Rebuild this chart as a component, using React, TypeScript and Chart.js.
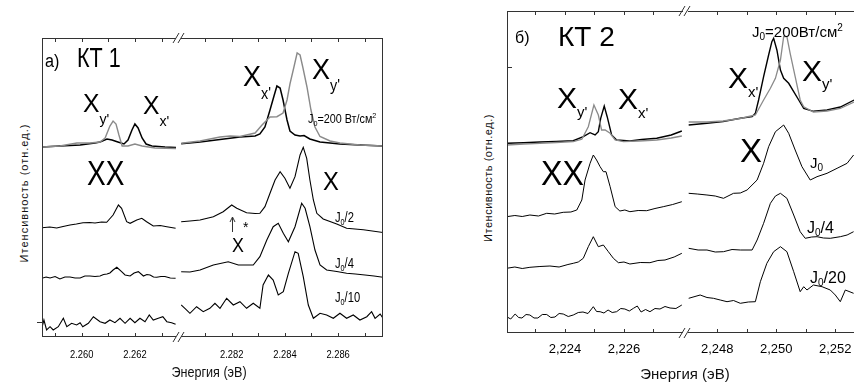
import React, { useEffect, useRef } from "react";
import { Chart, registerables } from "chart.js";
Chart.register(...registerables);

// ===================== Panel а) КТ 1 : left segment =====================
const aL_topBlack_E = [2.2585, 2.25918, 2.25994, 2.2605, 2.26069, 2.26095, 2.26114, 2.26136, 2.26159, 2.26174, 2.26189, 2.262, 2.26212, 2.26227, 2.26242, 2.26264, 2.26313, 2.26355];
const aL_topBlack_I = [190, 191, 192, 194, 195, 198, 197, 195, 193, 197, 207, 213, 209, 199, 193, 191, 190, 189.5];
const aL_topGray_E = [2.2585, 2.25918, 2.25982, 2.26031, 2.26069, 2.26088, 2.26106, 2.26118, 2.26129, 2.2614, 2.26152, 2.26174, 2.262, 2.26227, 2.26276, 2.26355];
const aL_topGray_I = [190, 191, 194, 194, 195, 199, 211, 216, 213, 202, 191, 191, 193, 191, 189, 188.5];
const aL_j2_E = [2.2585, 2.2588, 2.25906, 2.2593, 2.25956, 2.2598, 2.26005, 2.2603, 2.2605, 2.26075, 2.26094, 2.26118, 2.26138, 2.2615, 2.26169, 2.26182, 2.26207, 2.26226, 2.26244, 2.26269, 2.26295, 2.2632, 2.26353];
const aL_j2_I = [109.3, 110, 109, 110.5, 112, 113, 114.3, 114.5, 114, 115, 114.7, 122, 132, 128.7, 115.3, 113.7, 117, 118.7, 115.3, 111, 111.5, 110.3, 108.7];
const aL_j4_E = [2.2585, 2.25866, 2.25881, 2.259, 2.25918, 2.25937, 2.25956, 2.25975, 2.25994, 2.26012, 2.26031, 2.2605, 2.26069, 2.26082, 2.26095, 2.26106, 2.26118, 2.26132, 2.2615, 2.26163, 2.26182, 2.26197, 2.26213, 2.26232, 2.26245, 2.26257, 2.2627, 2.26282, 2.26298, 2.26313, 2.26333, 2.26353];
const aL_j4_I = [58.7, 60, 59, 60.5, 58, 60, 60, 59, 59, 61, 61, 60.5, 61, 62.5, 63, 64, 67, 69.7, 65.3, 62, 61, 64, 65.3, 61, 62.5, 62, 60, 59.7, 60.5, 60.5, 59, 58.7];
const aL_j10_E = [2.2585, 2.25858, 2.25868, 2.25881, 2.25893, 2.25912, 2.25931, 2.25944, 2.25962, 2.25981, 2.25994, 2.26004, 2.26025, 2.26044, 2.26069, 2.26088, 2.26106, 2.26125, 2.26144, 2.26163, 2.26182, 2.262, 2.26219, 2.26238, 2.26254, 2.26269, 2.26288, 2.26305, 2.2632, 2.26338, 2.26353];
const aL_j10_I = [9, 17, 7, 10.3, 7, 10.3, 18.7, 10.3, 13.7, 12, 14.3, 10.3, 13.7, 20.3, 15.3, 13.7, 17, 14.3, 18.7, 13.7, 18.7, 14.3, 18.7, 15.3, 22, 17, 18.7, 20.3, 15.3, 14.3, 12.7];

// ===================== Panel а) КТ 1 : right segment =====================
const aR_topBlack_E = [2.2801, 2.28081, 2.28156, 2.28231, 2.28288, 2.28306, 2.28325, 2.28344, 2.28359, 2.2837, 2.28382, 2.28393, 2.28408, 2.28419, 2.28438, 2.28457, 2.28472, 2.28494, 2.28532, 2.28607, 2.28682, 2.28769];
const aR_topBlack_I = [193.3, 195, 197.5, 200, 201, 203, 210, 227, 241, 251, 249, 237, 217, 206, 202, 201, 201.5, 198, 195, 193, 192, 191];
const aR_topGray_E = [2.2801, 2.28081, 2.28156, 2.28194, 2.28231, 2.28288, 2.28314, 2.28344, 2.2837, 2.28393, 2.28408, 2.28419, 2.28434, 2.28446, 2.28457, 2.28468, 2.28483, 2.28498, 2.28513, 2.28532, 2.2857, 2.28607, 2.28682, 2.28769];
const aR_topGray_I = [193.7, 196, 200, 201, 200.5, 204, 212, 220, 220.3, 224, 237, 253, 270, 284, 282, 269, 250, 227, 210, 200.5, 196, 194, 192, 191];
const aR_j2_E = [2.2801, 2.28043, 2.28081, 2.28131, 2.28168, 2.282, 2.28219, 2.28256, 2.28288, 2.28306, 2.28325, 2.28344, 2.28363, 2.28382, 2.284, 2.28419, 2.28438, 2.28457, 2.28469, 2.28482, 2.28494, 2.28507, 2.2852, 2.28544, 2.28595, 2.28632, 2.28695, 2.28769];
const aR_j2_I = [115.3, 116, 117, 120.3, 125.3, 132, 128.7, 124.3, 123.5, 123.7, 130.3, 143.7, 157, 165.3, 158.7, 148.7, 160.3, 182, 189.7, 178.7, 157, 137, 123.7, 118, 113, 108.7, 107.2, 104.5];
const aR_j4_E = [2.2801, 2.28043, 2.28081, 2.28131, 2.28187, 2.28225, 2.28281, 2.28306, 2.28332, 2.28356, 2.28375, 2.28394, 2.28413, 2.28438, 2.28463, 2.28476, 2.28494, 2.28513, 2.28532, 2.28557, 2.28595, 2.28632, 2.28665, 2.28701, 2.28735, 2.2877];
const aR_j4_I = [65.3, 65, 67, 72, 75.3, 72, 72, 80.3, 97, 110.3, 113.7, 103.7, 95.3, 110.3, 133.7, 128.7, 110.3, 87, 72, 67, 65.5, 63.7, 63, 62, 61, 59.7];
const aR_j10_E = [2.2801, 2.28024, 2.28043, 2.28068, 2.28093, 2.28118, 2.28137, 2.28156, 2.28181, 2.28206, 2.28231, 2.28256, 2.28281, 2.28306, 2.28318, 2.28338, 2.28356, 2.28375, 2.28394, 2.28413, 2.28438, 2.2845, 2.28469, 2.28488, 2.28507, 2.28532, 2.28557, 2.28582, 2.28607, 2.28632, 2.28657, 2.28682, 2.28708, 2.28726, 2.28739, 2.28758, 2.28773];
const aR_j10_I = [32, 28.7, 23.7, 30.3, 25.3, 28.7, 33.7, 28.7, 38.7, 32, 35.3, 28.7, 33.7, 28.7, 52, 62, 57, 42, 45.3, 63.7, 85.3, 83.7, 60.3, 32, 18.7, 23.7, 22, 18.7, 23.7, 18.7, 22, 17, 20.3, 25.3, 18.7, 23, 17];

// ===================== Panel б) КТ 2 : left segment =====================
const bL_topGray_E = [2.22202, 2.2226, 2.22315, 2.2237, 2.22428, 2.22457, 2.22479, 2.22498, 2.22513, 2.22524, 2.22536, 2.22553, 2.2257, 2.22598, 2.2265, 2.22711, 2.2276, 2.22796];
const bL_topGray_I = [188, 189, 189.7, 190.5, 191.3, 193.7, 206.3, 228, 218, 203, 203, 199.7, 193, 191.3, 192, 193, 195, 197];
const bL_topBlack_E = [2.22202, 2.2226, 2.22315, 2.2237, 2.22428, 2.22462, 2.22485, 2.22502, 2.22513, 2.22521, 2.22533, 2.22543, 2.22558, 2.22575, 2.2262, 2.2266, 2.22711, 2.2276, 2.22796];
const bL_topBlack_I = [189.7, 190.3, 191, 191.5, 192.3, 196.3, 200.3, 198, 201.3, 214.7, 227, 216.3, 198, 193, 192, 193.5, 194.7, 198, 202];
const bL_j0_E = [2.22202, 2.2223, 2.22255, 2.22281, 2.2231, 2.22338, 2.22365, 2.22394, 2.2242, 2.2244, 2.22457, 2.22468, 2.22485, 2.22496, 2.22507, 2.22519, 2.2253, 2.22539, 2.22553, 2.2257, 2.22586, 2.22603, 2.2262, 2.22648, 2.22677, 2.22705, 2.22733, 2.22765, 2.22796];
const bL_j0_I = [116.3, 117.5, 116.5, 118, 117, 119.7, 119, 120.7, 121, 123, 133, 153, 169.7, 178, 173, 166.3, 161.3, 161.3, 146.3, 126.3, 122, 123, 121.3, 122.5, 122.3, 124.5, 126.3, 128.5, 131.3];
const bL_j4_E = [2.22202, 2.2223, 2.22255, 2.22281, 2.22315, 2.22349, 2.2238, 2.2241, 2.22428, 2.22445, 2.22462, 2.22479, 2.22496, 2.22513, 2.2253, 2.22547, 2.22564, 2.22581, 2.226, 2.2262, 2.22655, 2.22688, 2.22715, 2.22739, 2.2277, 2.22796];
const bL_j4_I = [64.7, 66, 64.5, 65.7, 66.5, 67, 66, 68.5, 69.7, 71, 74.7, 86.3, 96.3, 86.3, 88, 81.3, 74.7, 70.3, 71, 69, 70.5, 70.3, 72.5, 73, 76, 79.7];
const bL_j20_E = [2.22202, 2.22216, 2.22231, 2.22243, 2.22254, 2.22268, 2.22281, 2.22295, 2.22308, 2.22323, 2.22338, 2.22352, 2.22366, 2.2238, 2.22394, 2.22411, 2.22428, 2.22445, 2.22461, 2.22478, 2.22496, 2.22507, 2.22519, 2.22532, 2.22546, 2.2256, 2.22575, 2.22589, 2.22603, 2.22618, 2.22632, 2.22645, 2.22658, 2.22673, 2.22688, 2.22705, 2.22722, 2.22739, 2.22756, 2.22776, 2.22796];
const bL_j20_I = [16.3, 14, 19, 15.5, 15, 18.5, 18, 15, 15, 18.5, 18.5, 15.5, 16, 19.5, 19, 16.5, 18, 20.5, 21, 19.5, 26.3, 21.5, 21.3, 20, 23, 20.5, 21.3, 24.5, 24, 22, 24.7, 27, 21, 23.5, 21.3, 24.5, 24, 26.5, 25, 24.5, 28];

// ===================== Panel б) КТ 2 : right segment =====================
const bR_topBlack_E = [2.24703, 2.24765, 2.2482, 2.24878, 2.24918, 2.24929, 2.2494, 2.24957, 2.24974, 2.24985, 2.24991, 2.25002, 2.25014, 2.25025, 2.25042, 2.25059, 2.25076, 2.25093, 2.25126, 2.25172, 2.25217, 2.25264];
const bR_topBlack_I = [208, 209.7, 211.5, 214.7, 216.3, 219.7, 233, 256.3, 278, 291.3, 294.7, 283, 263, 254.7, 249.7, 241.3, 233, 224.7, 221.7, 223, 226, 233];
const bR_topGray_E = [2.24703, 2.24765, 2.2482, 2.24878, 2.24929, 2.24957, 2.2498, 2.24997, 2.25014, 2.25025, 2.25036, 2.25047, 2.25064, 2.25081, 2.25093, 2.25126, 2.25172, 2.25217, 2.25264];
const bR_topGray_I = [211, 211, 212, 214.5, 218, 233, 244.7, 254.7, 273, 296.3, 296.3, 279.7, 256.3, 233, 226.3, 221, 222, 224.5, 231];
const bR_j0_E = [2.24703, 2.24732, 2.24765, 2.24793, 2.24821, 2.24855, 2.24878, 2.24901, 2.24935, 2.24957, 2.24974, 2.24997, 2.25025, 2.25042, 2.25064, 2.25087, 2.25115, 2.25138, 2.25172, 2.25206, 2.2524, 2.25262];
const bR_j0_I = [139.7, 139, 138, 137, 134.7, 139.7, 140, 143, 153, 169.7, 186.3, 201.3, 208, 199.7, 183, 166.3, 153, 156.3, 159.7, 164.7, 169.7, 178];
const bR_j4_E = [2.24703, 2.24735, 2.24765, 2.24793, 2.24821, 2.2485, 2.24878, 2.24918, 2.24935, 2.24957, 2.2498, 2.24997, 2.25014, 2.25036, 2.25059, 2.25081, 2.25098, 2.2512, 2.25138, 2.2516, 2.25183, 2.25217, 2.2524, 2.25262];
const bR_j4_I = [84.7, 83, 83, 81, 81.3, 83.5, 83, 83, 93, 109.7, 129.7, 137, 139.7, 134.7, 118, 101.3, 94.7, 96, 96.3, 95, 94.7, 96.3, 98, 101.3];
const bR_j20_E = [2.24703, 2.24742, 2.24765, 2.24787, 2.2481, 2.24833, 2.24855, 2.24878, 2.24905, 2.24929, 2.24946, 2.24968, 2.24991, 2.25014, 2.25036, 2.25059, 2.25081, 2.25093, 2.25104, 2.25126, 2.25155, 2.25183, 2.252, 2.25217, 2.25234, 2.25262];
const bR_j20_I = [34.7, 38, 35.5, 34.7, 33, 31.3, 32.5, 29.7, 31, 31.3, 51.3, 69.7, 81.3, 86.3, 81.3, 61.3, 41.3, 46.3, 43, 48, 46.3, 43, 38, 31.3, 43, 39.7];

// ===================== Axes: ticks and tick labels =====================
const aL_ticks = [2.259, 2.26, 2.261, 2.262, 2.263];
const aL_tickLabels = ["", "2.260", "", "2.262", ""];
const aR_ticks = [2.281, 2.282, 2.283, 2.284, 2.285, 2.286, 2.287];
const aR_tickLabels = ["", "2.282", "", "2.284", "", "2.286", ""];
const bL_ticks = [2.223, 2.224, 2.225, 2.226, 2.227];
const bL_tickLabels = ["", "2,224", "", "2,226", ""];
const bR_ticks = [2.248, 2.249, 2.25, 2.251, 2.252];
const bR_tickLabels = ["2,248", "", "2,250", "", "2,252"];

const BLACK = "#000000";
const GRAY = "#8a8a8a";
const FRAME = "#333333";
const FONT_A = "'Liberation Sans', Arial, sans-serif";
const FONT_B = "'Liberation Sans', Arial, sans-serif";

const pts = (E: number[], I: number[]) => E.map((x, i) => ({ x, y: I[i] }));
const line = (E: number[], I: number[], color: string, width: number) => ({
  data: pts(E, I),
  borderColor: color,
  borderWidth: width,
  pointRadius: 0,
  tension: 0,
  fill: false,
});

const framePlugin = {
  id: "frame",
  afterDraw(chart: any, _a: any, o: any) {
    const { ctx, chartArea: a, scales } = chart;
    const xs = scales.x;
    const ys = scales.y;
    ctx.save();
    ctx.strokeStyle = FRAME;
    ctx.lineWidth = 1;
    ctx.beginPath();
    ctx.moveTo(a.left, a.top + 0.5);
    ctx.lineTo(a.right, a.top + 0.5);
    ctx.moveTo(a.left, a.bottom - 0.5);
    ctx.lineTo(a.right, a.bottom - 0.5);
    if (o.left) {
      ctx.moveTo(a.left + 0.5, a.top);
      ctx.lineTo(a.left + 0.5, a.bottom);
    }
    if (o.right) {
      ctx.moveTo(a.right - 0.5, a.top);
      ctx.lineTo(a.right - 0.5, a.bottom);
    }
    for (const v of o.ticks) {
      const px = Math.round(xs.getPixelForValue(v)) + 0.5;
      ctx.moveTo(px, a.top);
      ctx.lineTo(px, a.top + 4);
      ctx.moveTo(px, a.bottom);
      ctx.lineTo(px, a.bottom - 4);
    }
    for (const t of o.yTicks || []) {
      const py = Math.round(ys.getPixelForValue(t.v)) + 0.5;
      ctx.moveTo(a.left, py);
      ctx.lineTo(a.left + t.len, py);
    }
    if (o.breakLeft) {
      for (const y of [a.top, a.bottom]) {
        for (const dx of o.breakDx) {
          ctx.moveTo(a.left + dx - 3, y + 5);
          ctx.lineTo(a.left + dx + 3, y - 5);
        }
      }
    }
    for (const ar of o.arrows || []) {
      const px = Math.round(xs.getPixelForValue(ar.x)) + 0.5;
      const y0 = ys.getPixelForValue(ar.from);
      const y1 = ys.getPixelForValue(ar.to);
      ctx.moveTo(px, y0);
      ctx.lineTo(px, y1);
      ctx.moveTo(px - 2.5, y1 + 5);
      ctx.lineTo(px, y1);
      ctx.lineTo(px + 2.5, y1 + 5);
    }
    ctx.stroke();
    ctx.fillStyle = "#000";
    ctx.font = o.font;
    ctx.textAlign = "center";
    ctx.textBaseline = "alphabetic";
    o.ticks.forEach((v: number, i: number) => {
      const s = o.labels[i];
      if (!s) return;
      ctx.save();
      ctx.translate(xs.getPixelForValue(v), a.bottom + o.labelDy);
      ctx.scale(o.labelSx || 1, 1);
      ctx.fillText(s, 0, 0);
      ctx.restore();
    });
    ctx.restore();
  },
};

type Seg = {
  area: { left: number; top: number; right: number; bottom: number };
  pad: { left: number; right: number; top: number; bottom: number };
  xMin: number;
  xMax: number;
  yMax: number;
  datasets: any[];
  frame: any;
};

function Segment({ s }: { s: Seg }) {
  const ref = useRef<HTMLCanvasElement | null>(null);
  const w = s.area.right - s.area.left + s.pad.left + s.pad.right;
  const h = s.area.bottom - s.area.top + s.pad.top + s.pad.bottom;
  useEffect(() => {
    const c = new Chart(ref.current as HTMLCanvasElement, {
      type: "line",
      data: { datasets: s.datasets },
      options: {
        responsive: false,
        animation: false,
        devicePixelRatio: 1,
        events: [],
        layout: { padding: s.pad },
        plugins: { legend: { display: false }, tooltip: { enabled: false }, frame: s.frame } as any,
        scales: {
          x: { type: "linear", min: s.xMin, max: s.xMax, display: false },
          y: { type: "linear", min: 0, max: s.yMax, display: false },
        },
      },
      plugins: [framePlugin],
    });
    return () => c.destroy();
  }, []);
  return (
    <canvas
      ref={ref}
      width={w}
      height={h}
      style={{ position: "absolute", left: s.area.left - s.pad.left, top: s.area.top - s.pad.top, width: w, height: h }}
    />
  );
}

type Part = [string, number?, number?];
function Txt({ x, cap, size, parts, font, sx = 1 }: { x: number; cap: number; size: number; parts: Part[]; font: string; sx?: number }) {
  return (
    <div style={{ position: "absolute", left: x, top: cap - 0.13 * size, fontSize: size, lineHeight: 1, fontFamily: font, whiteSpace: "nowrap", color: "#000", transform: `scaleX(${sx})`, transformOrigin: "0 0" }}>
      {parts.map(([t, sz, dy], i) => (
        <span key={i} style={{ fontSize: sz ?? size, position: "relative", top: dy ?? 0 }}>{t}</span>
      ))}
    </div>
  );
}

function VTitle({ cx, cy, size, text, font, spacing }: { cx: number; cy: number; size: number; text: string; font: string; spacing: number }) {
  return (
    <div style={{ position: "absolute", left: cx, top: cy, transform: "translate(-50%,-50%) rotate(-90deg)", fontSize: size, lineHeight: 1, fontFamily: font, whiteSpace: "nowrap", letterSpacing: spacing, color: "#111" }}>
      {text}
    </div>
  );
}

function HTitle({ cx, cap, size, text, font, sx = 1 }: { cx: number; cap: number; size: number; text: string; font: string; sx?: number }) {
  return (
    <div style={{ position: "absolute", left: cx, top: cap - 0.13 * size, transform: `translateX(-50%) scaleX(${sx})`, fontSize: size, lineHeight: 1, fontFamily: font, whiteSpace: "nowrap", color: "#111" }}>
      {text}
    </div>
  );
}

const PAD = { left: 12, right: 12, top: 10, bottom: 30 };

const segments: Seg[] = [
  {
    area: { left: 42, top: 38, right: 176, bottom: 337 },
    pad: PAD,
    xMin: 2.2585075,
    xMax: 2.263545,
    yMax: 299,
    datasets: [
      line(aL_topGray_E, aL_topGray_I, GRAY, 1.4),
      line(aL_topBlack_E, aL_topBlack_I, BLACK, 1.5),
      line(aL_j2_E, aL_j2_I, BLACK, 1.1),
      line(aL_j4_E, aL_j4_I, BLACK, 1.1),
      line(aL_j10_E, aL_j10_I, BLACK, 1.1),
    ],
    frame: { left: true, right: false, ticks: aL_ticks, labels: aL_tickLabels, font: "11px " + FONT_A, labelSx: 0.85, labelDy: 21, yTicks: [{ v: 15, len: -5 }] },
  },
  {
    area: { left: 181, top: 38, right: 383, bottom: 337 },
    pad: PAD,
    xMin: 2.280094,
    xMax: 2.287688,
    yMax: 299,
    datasets: [
      line(aR_topGray_E, aR_topGray_I, GRAY, 1.4),
      line(aR_topBlack_E, aR_topBlack_I, BLACK, 1.5),
      line(aR_j2_E, aR_j2_I, BLACK, 1.1),
      line(aR_j4_E, aR_j4_I, BLACK, 1.1),
      line(aR_j10_E, aR_j10_I, BLACK, 1.1),
    ],
    frame: { left: false, right: true, ticks: aR_ticks, labels: aR_tickLabels, font: "11px " + FONT_A, labelSx: 0.85, labelDy: 21, breakLeft: true, breakDx: [-5, 0], arrows: [{ x: 2.282, from: 105, to: 120 }] },
  },
  {
    area: { left: 507, top: 11, right: 683, bottom: 333 },
    pad: PAD,
    xMin: 2.222034,
    xMax: 2.228,
    yMax: 322,
    datasets: [
      line(bL_topGray_E, bL_topGray_I, GRAY, 1.3),
      line(bL_topBlack_E, bL_topBlack_I, BLACK, 1.4),
      line(bL_j0_E, bL_j0_I, BLACK, 1),
      line(bL_j4_E, bL_j4_I, BLACK, 1),
      line(bL_j20_E, bL_j20_I, BLACK, 1),
    ],
    frame: { left: true, right: false, ticks: bL_ticks, labels: bL_tickLabels, font: "13px " + FONT_B, labelDy: 20, yTicks: [{ v: 266, len: 5 }] },
  },
  {
    area: { left: 688, top: 11, right: 854, bottom: 333 },
    pad: { left: 12, right: 0, top: 10, bottom: 30 },
    xMin: 2.247007,
    xMax: 2.252634,
    yMax: 322,
    datasets: [
      line(bR_topGray_E, bR_topGray_I, GRAY, 1.3),
      line(bR_topBlack_E, bR_topBlack_I, BLACK, 1.4),
      line(bR_j0_E, bR_j0_I, BLACK, 1),
      line(bR_j4_E, bR_j4_I, BLACK, 1),
      line(bR_j20_E, bR_j20_I, BLACK, 1),
    ],
    frame: { left: false, right: false, ticks: bR_ticks, labels: bR_tickLabels, font: "13px " + FONT_B, labelDy: 20, breakLeft: true, breakDx: [-6, -1] },
  },
];

export default function App() {
  return (
    <div style={{ position: "absolute", left: 0, top: 0, width: 854, height: 382, overflow: "hidden", background: "#fff" }}>
      {segments.map((s, i) => (
        <Segment key={i} s={s} />
      ))}

      {/* Panel а */}
      <VTitle cx={24} cy={193} size={11} text="Итенсивность (отн.ед.)" font={FONT_B} spacing={1} />
      <HTitle cx={209} cap={367} size={14} text="Энергия (эВ)" font={FONT_A} sx={0.9} />
      <Txt x={45} cap={54} size={18} parts={[["а)"]]} font={FONT_A} sx={0.9} />
      <Txt x={77} cap={48} size={28} parts={[["КТ 1"]]} font={FONT_A} sx={0.77} />
      <Txt x={83} cap={93} size={26} parts={[["X"], ["y'", 15, 12]]} font={FONT_A} sx={0.95} />
      <Txt x={143} cap={95} size={26} parts={[["X"], ["x'", 15, 12]]} font={FONT_A} sx={0.95} />
      <Txt x={87} cap={160} size={35} parts={[["XX"]]} font={FONT_A} sx={0.8} />
      <Txt x={243} cap={65} size={30} parts={[["X"], ["x'", 16, 13]]} font={FONT_A} sx={0.9} />
      <Txt x={312} cap={58} size={30} parts={[["X"], ["y'", 16, 12]]} font={FONT_A} sx={0.9} />
      <Txt x={308} cap={115} size={12} parts={[["J"], ["0", 8, 3], ["=200 Вт/см"], ["2", 8, -5]]} font={FONT_A} sx={0.9} />
      <Txt x={323} cap={172} size={25} parts={[["X"]]} font={FONT_A} sx={0.95} />
      <Txt x={335} cap={212} size={14} parts={[["J"], ["0", 9, 3], ["/2"]]} font={FONT_A} sx={0.8} />
      <Txt x={232} cap={237} size={21} parts={[["X"]]} font={FONT_A} sx={0.85} />
      <Txt x={243} cap={222} size={14} parts={[["*"]]} font={FONT_A} />
      <Txt x={335} cap={258} size={14} parts={[["J"], ["0", 9, 3], ["/4"]]} font={FONT_A} sx={0.8} />
      <Txt x={335} cap={292} size={14} parts={[["J"], ["0", 9, 3], ["/10"]]} font={FONT_A} sx={0.8} />

      {/* Panel б */}
      <VTitle cx={488} cy={178} size={11} text="Итенсивность (отн.ед.)" font={FONT_B} spacing={0.5} />
      <HTitle cx={685} cap={368} size={15} text="Энергия (эВ)" font={FONT_B} />
      <Txt x={515} cap={32} size={16} parts={[["б)"]]} font={FONT_B} />
      <Txt x={558} cap={27} size={28} parts={[["КТ 2"]]} font={FONT_B} />
      <Txt x={557} cap={87} size={30} parts={[["X"], ["y'", 15, 9]]} font={FONT_B} />
      <Txt x={618} cap={88} size={30} parts={[["X"], ["x'", 15, 9]]} font={FONT_B} />
      <Txt x={541} cap={160} size={35} parts={[["XX"]]} font={FONT_B} sx={0.92} />
      <Txt x={752} cap={26} size={15} parts={[["J"], ["0", 10, 3], ["=200Вт/см"], ["2", 10, -6]]} font={FONT_B} />
      <Txt x={728} cap={67} size={30} parts={[["X"], ["x'", 15, 9]]} font={FONT_B} />
      <Txt x={802} cap={60} size={30} parts={[["X"], ["y'", 15, 8]]} font={FONT_B} />
      <Txt x={740} cap={138} size={33} parts={[["X"]]} font={FONT_B} />
      <Txt x={810} cap={157} size={15} parts={[["J"], ["0", 10, 3]]} font={FONT_B} />
      <Txt x={807} cap={222} size={16} parts={[["J"], ["0", 10, 3], ["/4"]]} font={FONT_B} />
      <Txt x={810} cap={272} size={16} parts={[["J"], ["0", 10, 3], ["/20"]]} font={FONT_B} />
    </div>
  );
}
